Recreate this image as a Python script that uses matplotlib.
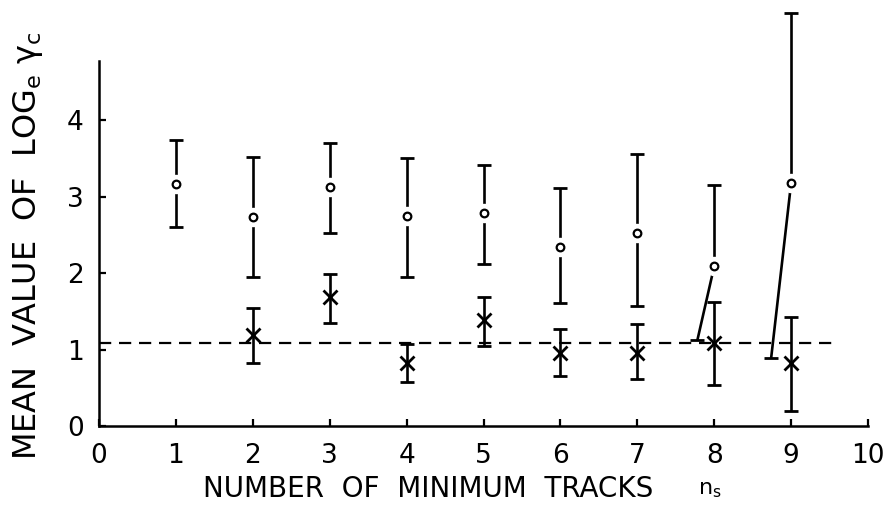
import numpy as np
import matplotlib
matplotlib.use('Agg')
import matplotlib.pyplot as plt

# values
n_circ = [1, 2, 3, 4, 5, 6, 7, 8, 9]
circ_y = [3.16, 2.73, 3.12, 2.74, 2.78, 2.34, 2.52, 2.09, 3.18]
circ_hi = [3.74, 3.52, 3.70, 3.50, 3.41, 3.11, 3.55, 3.15, 5.40]
circ_lo = [2.60, 1.95, 2.52, 1.95, 2.12, 1.61, 1.57, 1.12, 0.89]
circ_lo_x = [1, 2, 3, 4, 5, 6, 7, 7.78, 8.74]  # the last two are drawn slanted

n_cross = [2, 3, 4, 5, 6, 7, 8, 9]
cross_y = [1.19, 1.69, 0.82, 1.39, 0.95, 0.95, 1.08, 0.82]
cross_hi = [1.54, 1.99, 1.07, 1.69, 1.27, 1.33, 1.62, 1.43]
cross_lo = [0.82, 1.35, 0.58, 1.05, 0.65, 0.61, 0.54, 0.20]

level = 1.09
level_end = 9.55

plt.rcParams['font.family'] = ['DejaVu Sans']

fig = plt.figure(figsize=(8.93, 5.09), dpi=100)
ax = fig.add_axes([0.1109, 0.163, 0.887, 0.8266])
ax.set_xlim(0, 10.3)
ax.set_ylim(0, 5.5)

lw = 1.9
cap = dict(marker='_', markersize=9.5, markeredgewidth=2.0, color='black', linestyle='none')

# circle series with error bars
for x, y, hi, lo, lx in zip(n_circ, circ_y, circ_hi, circ_lo, circ_lo_x):
    ax.plot([x, x], [y, hi], color='black', lw=lw, solid_capstyle='butt')
    ax.plot([x, lx], [y, lo], color='black', lw=lw, solid_capstyle='butt')
    ax.plot([x], [hi], **cap)
    ax.plot([lx], [lo], **cap)
ax.plot(n_circ, circ_y, 'o', markersize=13, color='white', markeredgecolor='white', zorder=3)
ax.plot(n_circ, circ_y, 'o', markersize=5.5, markerfacecolor='white',
        markeredgecolor='black', markeredgewidth=1.6, zorder=4)

# cross series with error bars
for x, y, hi, lo in zip(n_cross, cross_y, cross_hi, cross_lo):
    ax.plot([x, x], [lo, hi], color='black', lw=lw, solid_capstyle='butt')
    ax.plot([x], [hi], **cap)
    ax.plot([x], [lo], **cap)
ax.plot(n_cross, cross_y, 'x', markersize=10, color='black', markeredgewidth=2.0, zorder=4)

ax.plot([0, level_end], [level, level], color='black', lw=1.6, linestyle=(0, (5.5, 3.5)), zorder=1)

for s in ['top', 'right']:
    ax.spines[s].set_visible(False)
ax.spines['left'].set_bounds(0, 4.77)
ax.spines['bottom'].set_bounds(0, 10)
for s in ['left', 'bottom']:
    ax.spines[s].set_linewidth(1.8)

ax.set_xticks(range(0, 11))
ax.set_yticks([0, 1, 2, 3, 4])
ax.tick_params(direction='in', length=5, width=1.6, labelsize=19)
ax.tick_params(axis='x', pad=12)
ax.tick_params(axis='y', pad=11)

fig.text(428 / 893, 1 - 489 / 509, 'NUMBER  OF  MINIMUM  TRACKS', ha='center', va='center', fontsize=20)
fig.text(710 / 893, 1 - 490 / 509, 'n$_\\mathrm{s}$', ha='center', va='center', fontsize=16)
fig.text(28 / 893, 1 - 246 / 509, 'MEAN  VALUE  OF  LOG$_\\mathrm{e}$ γ$_\\mathrm{c}$', rotation=90,
         ha='center', va='center', fontsize=23)

fig.savefig('out.png', dpi=100)
